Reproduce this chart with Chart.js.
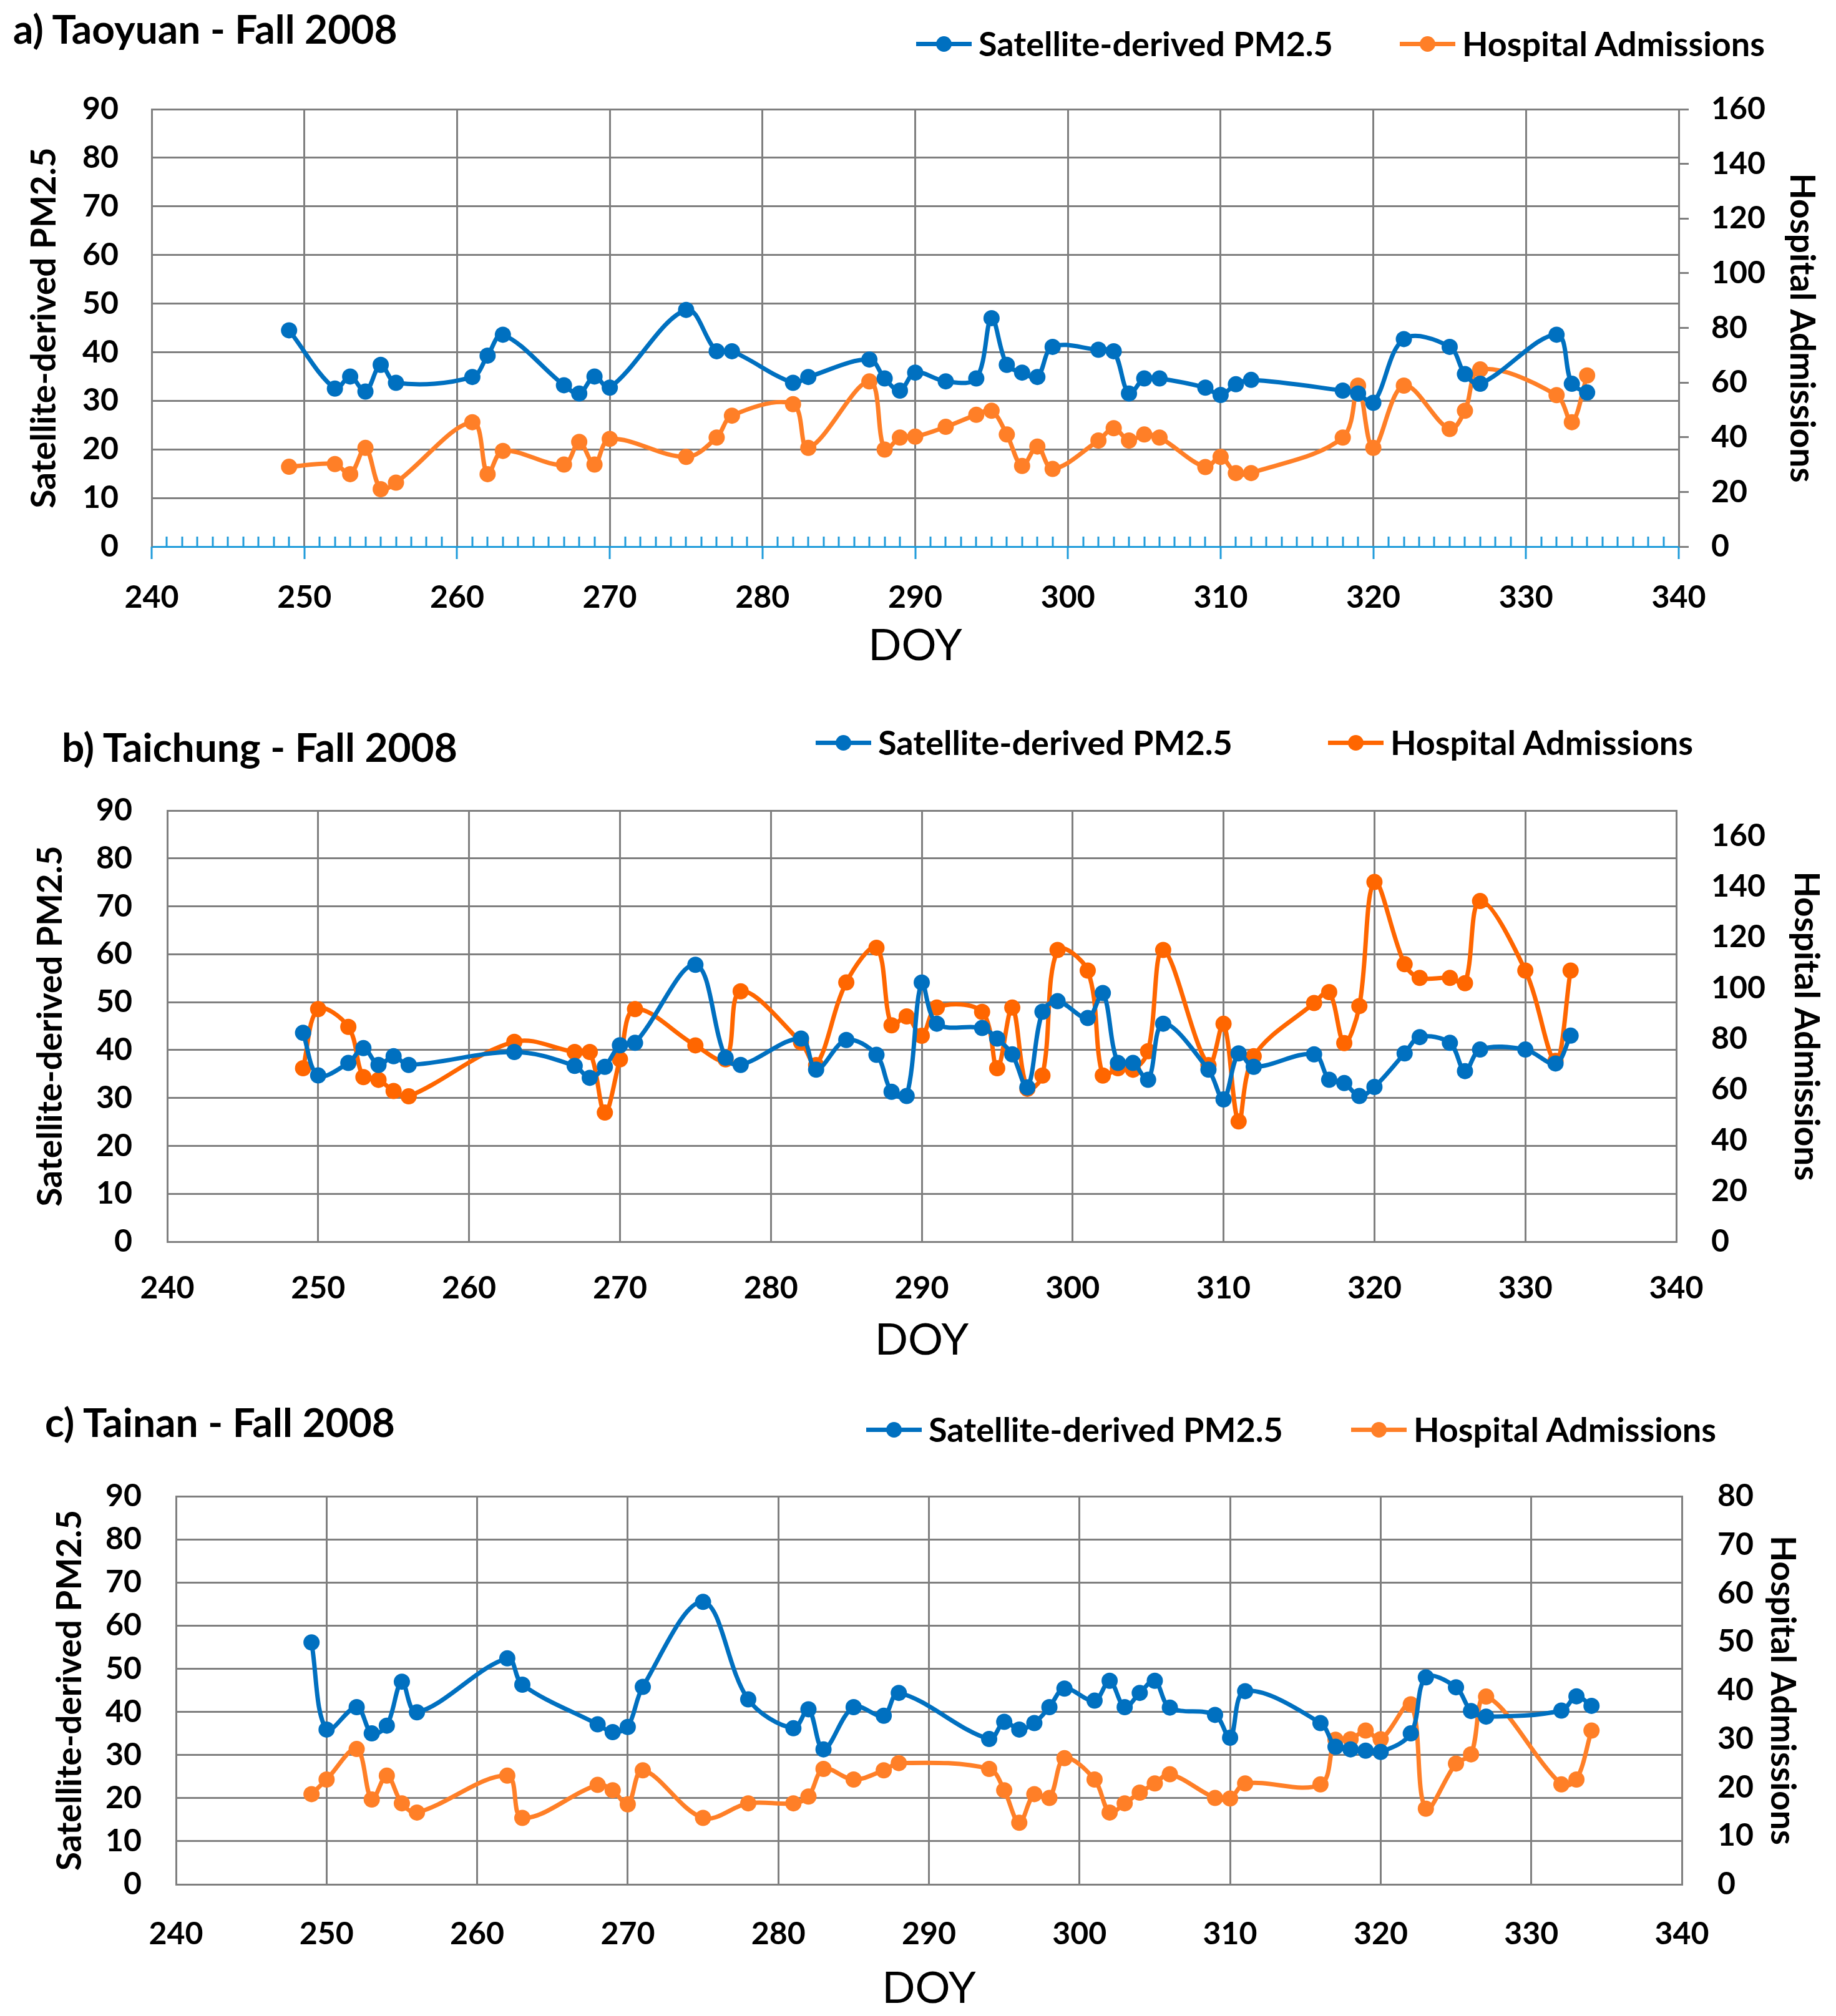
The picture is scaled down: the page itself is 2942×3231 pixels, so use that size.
<!DOCTYPE html>
<html>
<head>
<meta charset="utf-8">
<script src="https://cdn.jsdelivr.net/npm/chart.js@4"></script>
<style>
  body { margin: 0; background: #fff; font-family: Lato, "Open Sans", sans-serif; }
  #page { position: relative; width: 2942px; height: 3231px; overflow: hidden; }
  canvas { position: absolute; left: 0; }
  .title { position: absolute; font-size: 64px; line-height: 64px; font-weight: bold; color: #000; white-space: nowrap; }
  .leg { position: absolute; height: 0; white-space: nowrap; }
  .leg .sw { position: absolute; left: 0; top: -3px; width: 89px; height: 7px; }
  .leg .sw i { position: absolute; left: 32px; top: -9px; width: 25px; height: 25px; border-radius: 50%; }
  .leg span { position: absolute; left: 100px; top: -30px; font-size: 54px; line-height: 60px; font-weight: bold; color: #000; }
</style>
</head>
<body>
<div id="page">
  <canvas id="chartA" width="2942" height="1008" style="top:92px"></canvas>
  <canvas id="chartB" width="2942" height="987" style="top:1213px"></canvas>
  <canvas id="chartC" width="2942" height="920" style="top:2311px"></canvas>
</div>
<script>
const seriesNames = ['Satellite-derived PM2.5', 'Hospital Admissions'];
const panelTitles = ['a) Taoyuan - Fall 2008', 'b) Taichung - Fall 2008', 'c) Tainan - Fall 2008'];

// a) Taoyuan
const doyA = [249, 252, 253, 254, 255, 256, 261, 262, 263, 267, 268, 269, 270, 275, 277, 278, 282, 283, 287, 288, 289, 290, 292, 294, 295, 296, 297, 298, 299, 302, 303, 304, 305, 306, 309, 310, 311, 312, 318, 319, 320, 322, 325, 326, 327, 332, 333, 334];
const pmA = [44.5, 32.5, 35.0, 31.9, 37.4, 33.7, 34.9, 39.3, 43.6, 33.2, 31.5, 35.0, 32.7, 48.7, 40.2, 40.2, 33.7, 34.9, 38.5, 34.6, 32.1, 35.8, 34.0, 34.6, 47.0, 37.4, 35.8, 34.9, 41.1, 40.5, 40.2, 31.5, 34.6, 34.6, 32.7, 31.2, 33.4, 34.3, 32.1, 31.5, 29.6, 42.7, 41.1, 35.5, 33.5, 43.6, 33.5, 31.7];
const haA = [29.2, 30.2, 26.5, 36.1, 21.0, 23.4, 45.5, 26.5, 35.0, 30.0, 38.3, 30.0, 39.4, 32.8, 39.9, 47.9, 52.1, 36.1, 60.4, 35.5, 39.9, 40.2, 43.8, 48.2, 49.7, 41.0, 29.5, 36.6, 28.4, 38.8, 43.3, 38.8, 41.0, 39.9, 29.1, 32.8, 26.9, 26.9, 39.9, 58.9, 36.1, 58.9, 43.0, 49.7, 64.8, 55.4, 45.5, 62.6];

// b) Taichung
const doyB = [249, 250, 252, 253, 254, 255, 256, 263, 267, 268, 269, 270, 271, 275, 277, 278, 282, 283, 285, 287, 288, 289, 290, 291, 294, 295, 296, 297, 298, 299, 301, 302, 303, 304, 305, 306, 309, 310, 311, 312, 316, 317, 318, 319, 320, 322, 323, 325, 326, 327, 330, 332, 333];
const pmB = [43.6, 34.7, 37.3, 40.4, 36.9, 38.7, 36.9, 39.6, 36.7, 34.2, 36.5, 41.0, 41.5, 57.8, 38.4, 36.9, 42.4, 35.9, 42.1, 39.0, 31.3, 30.4, 54.1, 45.5, 44.6, 42.4, 39.1, 32.2, 48.0, 50.2, 46.7, 51.9, 37.3, 37.3, 33.8, 45.5, 35.9, 29.7, 39.3, 36.5, 39.1, 33.8, 33.1, 30.4, 32.3, 39.3, 42.7, 41.5, 35.6, 40.1, 40.1, 37.2, 43.0];
const haB = [68.4, 91.7, 84.7, 64.9, 63.8, 59.4, 57.3, 78.8, 74.8, 74.8, 50.9, 71.9, 91.7, 77.4, 71.9, 98.7, 78.6, 69.6, 102.2, 115.9, 85.3, 88.8, 81.2, 92.3, 90.6, 68.4, 92.3, 60.3, 65.5, 115.0, 106.9, 65.5, 68.4, 67.8, 75.1, 115.0, 69.6, 85.9, 47.4, 73.1, 94.1, 98.4, 78.3, 92.9, 141.8, 109.4, 104.0, 104.0, 101.9, 134.3, 106.9, 71.3, 106.9];

// c) Tainan
const doyC = [249, 250, 252, 253, 254, 255, 256, 262, 263, 268, 269, 270, 271, 275, 278, 281, 282, 283, 285, 287, 288, 294, 295, 296, 297, 298, 299, 301, 302, 303, 304, 305, 306, 309, 310, 311, 316, 317, 318, 319, 320, 322, 323, 325, 326, 327, 332, 333, 334];
const pmC = [56.1, 35.9, 41.1, 35.0, 36.8, 47.0, 39.9, 52.4, 46.3, 37.1, 35.3, 36.5, 45.8, 65.5, 42.9, 36.2, 40.6, 31.3, 41.1, 39.1, 44.4, 33.7, 37.7, 35.9, 37.4, 41.1, 45.4, 42.6, 47.2, 41.1, 44.4, 47.2, 41.0, 39.3, 34.0, 44.8, 37.4, 31.9, 31.3, 31.0, 30.7, 35.0, 48.0, 45.7, 40.2, 38.9, 40.3, 43.6, 41.4];
const haC = [18.6, 21.6, 27.9, 17.5, 22.4, 16.7, 14.8, 22.4, 13.7, 20.5, 19.4, 16.5, 23.5, 13.7, 16.7, 16.7, 18.1, 23.8, 21.6, 23.5, 25.0, 23.8, 19.4, 12.7, 18.6, 17.8, 26.0, 21.6, 14.8, 16.7, 18.9, 20.8, 22.7, 17.8, 17.7, 20.8, 20.6, 29.8, 29.9, 31.7, 29.9, 37.1, 15.6, 24.9, 26.8, 38.7, 20.6, 21.6, 31.7];

// axis ranges [min, max, step]
const xRange = [240, 340, 10];
const leftRange = [0, 90, 10];
const rightRanges = [[0, 160, 20], [0, 170, 20], [0, 80, 10]];

const blue = '#0070C0';
const oranges = ['#FF7F27', '#FF6600', '#FF7F27'];
const gridGray = '#7F7F7F';
const axisBlue = '#1F9BDA';
const fam = 'Lato, "Open Sans", sans-serif';

function pts(doy, vals) {
    return doy.map((d, i) => ({ x: d, y: vals[i] }));
}

// minor ticks on the blue x axis of panel a
const minorTicks = {
    id: 'minorTicks',
    afterDraw(chart, args, opts) {
        if (!opts.on) return;
        const sx = chart.scales.x;
        const ctx = chart.ctx;
        const y0 = chart.chartArea.bottom;
        ctx.save();
        ctx.strokeStyle = axisBlue;
        ctx.lineWidth = 3;
        for (let v = xRange[0]; v <= xRange[1]; v++) {
            const px = Math.round(sx.getPixelForValue(v));
            ctx.beginPath();
            ctx.moveTo(px, y0);
            ctx.lineTo(px, v % 10 === 0 ? y0 + 20 : y0 - 16);
            ctx.stroke();
        }
        ctx.restore();
    }
};

function makePanel(id, k, doy, pm, ha, lay) {
    const rr = rightRanges[k];
    const tickFont = { family: fam, size: 50, weight: 'bold' };
    const axisFont = { family: fam, size: 55, weight: 'bold', lineHeight: 1.2 };
    new Chart(document.getElementById(id), {
        type: 'line',
        data: {
            datasets: [{
                label: seriesNames[0],
                data: pts(doy, pm),
                yAxisID: 'y',
                borderColor: blue,
                backgroundColor: blue,
                borderWidth: 7,
                pointRadius: 13,
                pointBorderWidth: 0,
                tension: 0.35
            }, {
                label: seriesNames[1],
                data: pts(doy, ha),
                yAxisID: 'y1',
                borderColor: oranges[k],
                backgroundColor: oranges[k],
                borderWidth: 7,
                pointRadius: 13,
                pointBorderWidth: 0,
                tension: 0.35
            }]
        },
        options: {
            responsive: false,
            animation: false,
            devicePixelRatio: 1,
            layout: { padding: 0 },
            plugins: {
                legend: { display: false },
                tooltip: { enabled: false },
                minorTicks: { on: k === 0 }
            },
            scales: {
                x: {
                    type: 'linear',
                    min: xRange[0],
                    max: xRange[1],
                    afterFit: s => { s.height = lay.xh; },
                    ticks: { stepSize: xRange[2], color: '#000', padding: lay.xpad, font: tickFont },
                    grid: { color: gridGray, lineWidth: 3, drawTicks: false },
                    border: { color: k === 0 ? axisBlue : gridGray, width: 3 },
                    title: { display: true, text: 'DOY', color: '#000', padding: { top: 0, bottom: lay.doyPad }, font: { family: fam, size: 70, weight: 'normal', lineHeight: 1.2 } }
                },
                y: {
                    position: 'left',
                    min: leftRange[0],
                    max: leftRange[1],
                    afterFit: s => { s.width = lay.left; },
                    ticks: { stepSize: leftRange[2], color: '#000', padding: lay.lpad, font: tickFont },
                    grid: { color: gridGray, lineWidth: 3, drawTicks: false },
                    border: { color: gridGray, width: 3 },
                    title: { display: true, text: seriesNames[0], color: '#000', padding: { top: lay.ltitle, bottom: 0 }, font: axisFont }
                },
                y1: {
                    position: 'right',
                    min: rr[0],
                    max: rr[1],
                    afterFit: s => { s.width = 2942 - lay.right; },
                    ticks: { stepSize: rr[2], includeBounds: false, color: '#000', padding: lay.rpad, font: tickFont },
                    grid: { drawOnChartArea: false, drawTicks: k === 0, tickLength: 16, tickColor: gridGray, lineWidth: 3, color: gridGray },
                    border: { color: gridGray, width: 3 },
                    title: { display: true, text: seriesNames[1], color: '#000', padding: { top: lay.rtitle, bottom: 0 }, font: axisFont }
                }
            }
        },
        plugins: [minorTicks]
    });
}

makePanel('chartA', 0, doyA, pmA, haA, { xh: 224, left: 243, right: 2690, xpad: 52, doyPad: 23, lpad: 53, rpad: 36, ltitle: 38, rtitle: 22 });
makePanel('chartB', 1, doyB, pmB, haB, { xh: 210, left: 268, right: 2686, xpad: 45, doyPad: 10, lpad: 56, rpad: 56, ltitle: 48, rtitle: 15 });
makePanel('chartC', 2, doyC, pmC, haC, { xh: 211, left: 282, right: 2695, xpad: 50, doyPad: 2, lpad: 55, rpad: 57, ltitle: 79, rtitle: 53 });

// panel titles and legends
const page = document.getElementById('page');
const titlePos = [[21, 14], [99, 1165], [72, 2247]];
const legendPos = [[1468, 2243, 70], [1307, 2128, 1190], [1388, 2165, 2291]];
panelTitles.forEach((t, k) => {
    const d = document.createElement('div');
    d.className = 'title';
    d.style.left = titlePos[k][0] + 'px';
    d.style.top = titlePos[k][1] + 'px';
    d.textContent = t;
    page.appendChild(d);
    [blue, oranges[k]].forEach((c, j) => {
        const g = document.createElement('div');
        g.className = 'leg';
        g.style.left = legendPos[k][j] + 'px';
        g.style.top = legendPos[k][2] + 'px';
        g.innerHTML = '<div class="sw" style="background:' + c + '"><i style="background:' + c + '"></i></div><span></span>';
        g.querySelector('span').textContent = seriesNames[j];
        page.appendChild(g);
    });
});
</script>
</body>
</html>
